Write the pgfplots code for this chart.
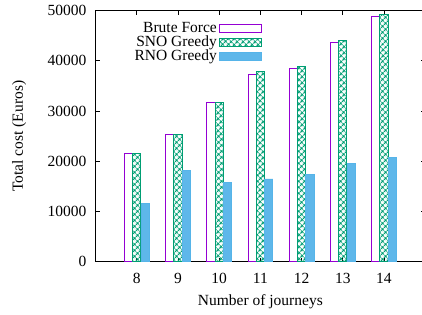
\documentclass[border=0pt]{standalone}
\usepackage{fontspec}
\setmainfont{Liberation Serif}
\usepackage{pgfplots}
\pgfplotsset{compat=1.18}
\usetikzlibrary{patterns.meta}
\definecolor{bfpurple}{HTML}{9400D3}
\definecolor{snogreen}{HTML}{009E73}
\definecolor{rnoblue}{HTML}{56B4E9}
\begin{document}
\fontsize{15.5}{18}\selectfont
\begin{tikzpicture}
\begin{axis}[
  at={(0pt,0pt)}, anchor=south west,
  scale only axis, width=329.4pt, height=250.8pt,
  xmin=7, xmax=15, ymin=0, ymax=50000,
  xtick={8,9,10,11,12,13,14}, ytick={0,10000,20000,30000,40000,50000},
  tick align=inside, tick pos=both,
  major tick length=4pt,
  tick style={black, line width=0.8pt},
  axis line style={black, line width=1pt},
  scaled y ticks=false,
  /pgf/number format/fixed, /pgf/number format/1000 sep={},
  /pgf/number format/assume math mode=true,
  ticklabel style={font=\fontsize{15.5}{18}\selectfont},
  xticklabel style={yshift=-6pt},
  yticklabel style={xshift=-4pt},
  xlabel={Number of journeys},
  ylabel={Total cost (Euros)},
  xlabel style={yshift=-1pt},
  ylabel style={yshift=11pt},
  label style={font=\fontsize{15.5}{18}\selectfont},
  legend plot pos=right,
  legend cell align=right,
  legend style={draw=none, fill=none, at={(rel axis cs:0.505,0.962)}, anchor=north east,
    font=\fontsize{15.5}{18}\selectfont, row sep=-3pt, inner sep=0pt},
  legend image code/.code={\draw[#1] (0pt,-4pt) rectangle (42pt,4pt);},
]
\addplot[ybar, bar width=0.2, bar shift=-0.2, draw=bfpurple, fill=white, line width=1pt]
  coordinates {(8,21500) (9,25400) (10,31700) (11,37350) (12,38400) (13,43650) (14,48900)};
\addlegendentry{Brute Force}
\addplot[ybar, bar width=0.2, bar shift=0, draw=snogreen, line width=1pt,
  pattern={Hatch[angle=45,distance=4pt,line width=1.1pt]}, pattern color=snogreen]
  coordinates {(8,21500) (9,25400) (10,31700) (11,37950) (12,38950) (13,44100) (14,49300)};
\addlegendentry{SNO Greedy}
\addplot[ybar, bar width=0.2, bar shift=0.2, draw=rnoblue, fill=rnoblue, line width=0.6pt,
  postaction={pattern={Dots[distance=2pt,radius=0.4pt]}, pattern color=white!60!rnoblue}]
  coordinates {(8,11600) (9,18200) (10,15850) (11,16450) (12,17350) (13,19600) (14,20750)};
\addlegendentry{RNO Greedy}
\end{axis}
\pgfresetboundingbox
\path[use as bounding box] (-95.7pt,-52.5pt) rectangle (326.3pt,261.5pt);
\end{tikzpicture}
\end{document}
